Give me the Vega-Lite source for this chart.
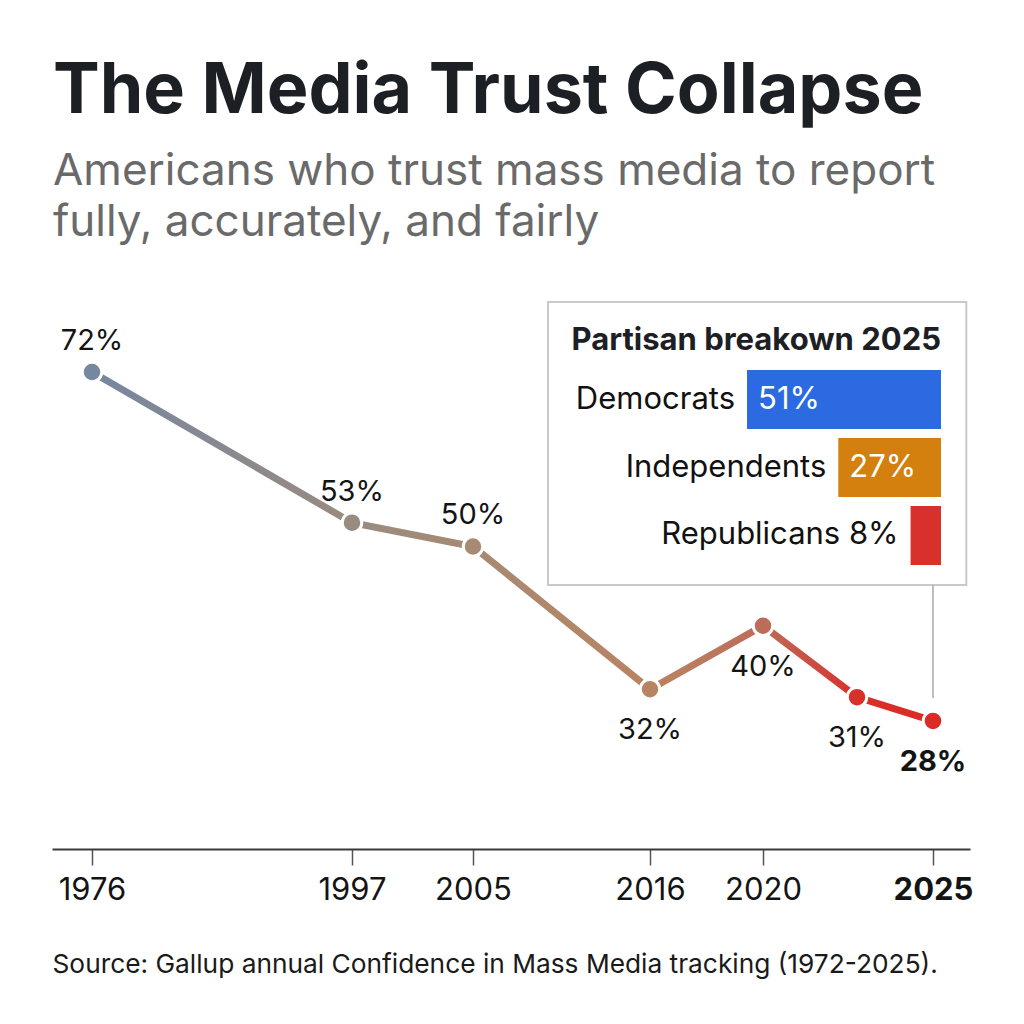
{
  "$schema": "https://vega.github.io/schema/vega-lite/v6.json",
  "width": 918,
  "height": 549,
  "autosize": {"type": "none"},
  "padding": {"left": 52, "top": 300, "right": 54, "bottom": 175},
  "background": "white",
  "config": {
    "view": {"stroke": null},
    "font": "Inter",
    "text": {"font": "Inter"}
  },
  "title": {
    "text": "The Media Trust Collapse",
    "subtitle": ["Americans who trust mass media to report", "fully, accurately, and fairly"],
    "anchor": "start",
    "frame": "group",
    "font": "Inter",
    "fontSize": 70,
    "fontWeight": "bold",
    "color": "#1c2024",
    "subtitleFont": "Inter",
    "subtitleFontSize": 44,
    "subtitleColor": "#6a6a6a",
    "subtitleLineHeight": 51,
    "subtitlePadding": 22,
    "offset": 54,
    "dx": 1
  },
  "datasets": {
    "trust": [
      {"year": 1976, "trust": 0.72},
      {"year": 1997, "trust": 0.53},
      {"year": 2005, "trust": 0.50},
      {"year": 2016, "trust": 0.32},
      {"year": 2020, "trust": 0.40},
      {"year": 2024, "trust": 0.31},
      {"year": 2025, "trust": 0.28}
    ],
    "partisan": [
      {"party": "Democrats", "share": 0.51},
      {"party": "Independents", "share": 0.27},
      {"party": "Republicans", "share": 0.08}
    ]
  },
  "layer": [
    {
      "data": {"name": "trust"},
      "layer": [
        {
          "mark": {
            "type": "line",
            "strokeWidth": 7,
            "strokeCap": "round",
            "color": {
              "gradient": "linear",
              "x1": 0, "x2": 1, "y1": 0, "y2": 0,
              "stops": [
                {"offset": 0, "color": "#7687a0"},
                {"offset": 0.309, "color": "#9a8b7f"},
                {"offset": 0.453, "color": "#a68a74"},
                {"offset": 0.664, "color": "#b98462"},
                {"offset": 0.798, "color": "#bd6c5a"},
                {"offset": 0.909, "color": "#d8302a"},
                {"offset": 1, "color": "#dc2a24"}
              ]
            }
          },
          "encoding": {
            "x": {
              "field": "year",
              "type": "quantitative",
              "scale": {
                "domain": [1972, 1976, 1997, 2005, 2016, 2020, 2024, 2025, 2025.5],
                "range": [0, 40, 300, 421, 598, 711, 805, 881, 918],
                "nice": false,
                "zero": false
              },
              "axis": {
                "values": [1976, 1997, 2005, 2016, 2020, 2025],
                "format": "d",
                "grid": false,
                "domainColor": "#3a3a3a",
                "domainWidth": 2,
                "tickColor": "#555555",
                "tickWidth": 1.5,
                "tickSize": 16,
                "labelFont": "Inter",
                "labelFontSize": 31,
                "labelColor": "#141414",
                "labelPadding": 10,
                "labelFlush": false,
                "labelOverlap": false,
                "labelFontWeight": {"condition": {"test": "datum.value == 2025", "value": "bold"}, "value": "normal"},
                "title": "Source: Gallup annual Confidence in Mass Media tracking (1972-2025).",
                "titleFont": "Inter",
                "titleFontSize": 26.3,
                "titleFontWeight": "normal",
                "titleColor": "#1a1a1a",
                "titleAnchor": "start",
                "titleAlign": "left",
                "titleBaseline": "alphabetic",
                "titleX": 0,
                "titleY": 123
              }
            },
            "y": {
              "field": "trust",
              "type": "quantitative",
              "scale": {"domain": [0.1185, 0.8108], "nice": false, "zero": false},
              "axis": null
            }
          }
        },
        {
          "mark": {"type": "point", "filled": true, "size": 380, "opacity": 1, "stroke": "white", "strokeWidth": 3},
          "encoding": {
            "x": {"field": "year", "type": "quantitative"},
            "y": {"field": "trust", "type": "quantitative"},
            "color": {
              "field": "year",
              "type": "quantitative",
              "scale": {
                "domain": [1976, 1997, 2005, 2016, 2020, 2024, 2025],
                "range": ["#7687a0", "#9a8b7f", "#a68a74", "#b98462", "#bd6c5a", "#d8302a", "#dc2a24"],
                "interpolate": "rgb"
              },
              "legend": null
            }
          }
        },
        {
          "transform": [{"filter": "datum.year <= 2005"}],
          "mark": {"type": "text", "fontSize": 29, "color": "#141414", "baseline": "alphabetic", "dy": -22},
          "encoding": {
            "x": {"field": "year", "type": "quantitative"},
            "y": {"field": "trust", "type": "quantitative"},
            "text": {"field": "trust", "type": "quantitative", "format": ".0%"}
          }
        },
        {
          "transform": [{"filter": "datum.year >= 2016"}],
          "mark": {
            "type": "text", "fontSize": 29, "color": "#141414", "baseline": "alphabetic", "dy": 50,
            "fontWeight": {"expr": "datum.year == 2025 ? 'bold' : 'normal'"}
          },
          "encoding": {
            "x": {"field": "year", "type": "quantitative"},
            "y": {"field": "trust", "type": "quantitative"},
            "text": {"field": "trust", "type": "quantitative", "format": ".0%"}
          }
        },
        {
          "data": {"values": [{}]},
          "mark": {"type": "rect", "fill": "white", "stroke": "#c9c9c9", "strokeWidth": 2},
          "encoding": {
            "x": {"datum": 2009.66, "type": "quantitative"},
            "x2": {"datum": 2025.45},
            "y": {"datum": 0.8083, "type": "quantitative"},
            "y2": {"datum": 0.4514}
          }
        },
        {
          "data": {"values": [{}]},
          "mark": {"type": "rule", "color": "#a9a9a9", "strokeWidth": 1.5},
          "encoding": {
            "x": {"datum": 2025, "type": "quantitative"},
            "y": {"datum": 0.4514, "type": "quantitative"},
            "y2": {"datum": 0.3089}
          }
        }
      ]
    },
    {
      "data": {"name": "partisan"},
      "layer": [
        {
          "mark": {"type": "bar"},
          "encoding": {
            "x": {
              "field": "share",
              "type": "quantitative",
              "scale": {"domain": [0, 0.6], "range": [889, 660.8], "nice": false},
              "axis": null
            },
            "y": {
              "field": "party",
              "type": "nominal",
              "sort": null,
              "scale": {
                "domain": ["Democrats", "Independents", "Republicans"],
                "range": [70, 265],
                "paddingInner": 0.132,
                "paddingOuter": 0
              },
              "axis": null
            },
            "color": {
              "field": "party",
              "type": "nominal",
              "scale": {
                "domain": ["Democrats", "Independents", "Republicans"],
                "range": ["#2b6ae0", "#d4800e", "#d8302a"]
              },
              "legend": null
            }
          }
        },
        {
          "transform": [{"filter": "datum.share >= 0.2"}],
          "mark": {"type": "text", "align": "right", "baseline": "middle", "dx": -12, "fontSize": 31, "color": "#111111"},
          "encoding": {
            "x": {"field": "share", "type": "quantitative"},
            "y": {"field": "party", "type": "nominal"},
            "text": {"field": "party", "type": "nominal"}
          }
        },
        {
          "transform": [{"filter": "datum.share < 0.2"}],
          "mark": {
            "type": "text", "align": "right", "baseline": "middle", "dx": -12, "fontSize": 31, "color": "#111111",
            "text": {"expr": "datum.party + ' ' + format(datum.share, '.0%')"}
          },
          "encoding": {
            "x": {"field": "share", "type": "quantitative"},
            "y": {"field": "party", "type": "nominal"}
          }
        },
        {
          "transform": [{"filter": "datum.share >= 0.2"}],
          "mark": {"type": "text", "align": "left", "baseline": "middle", "dx": 11, "fontSize": 31, "color": "white"},
          "encoding": {
            "x": {"field": "share", "type": "quantitative"},
            "y": {"field": "party", "type": "nominal"},
            "text": {"field": "share", "type": "quantitative", "format": ".0%"}
          }
        },
        {
          "data": {"values": [{"label": "Partisan breakown 2025"}]},
          "mark": {"type": "text", "align": "right", "baseline": "alphabetic", "dy": -50, "fontSize": 31, "fontWeight": "bold", "color": "#1c2024"},
          "encoding": {
            "x": {"datum": 0, "type": "quantitative"},
            "y": {"datum": "Democrats", "type": "nominal"},
            "text": {"field": "label", "type": "nominal"}
          }
        }
      ]
    }
  ],
  "resolve": {"scale": {"x": "independent", "y": "independent", "color": "independent"}}
}
